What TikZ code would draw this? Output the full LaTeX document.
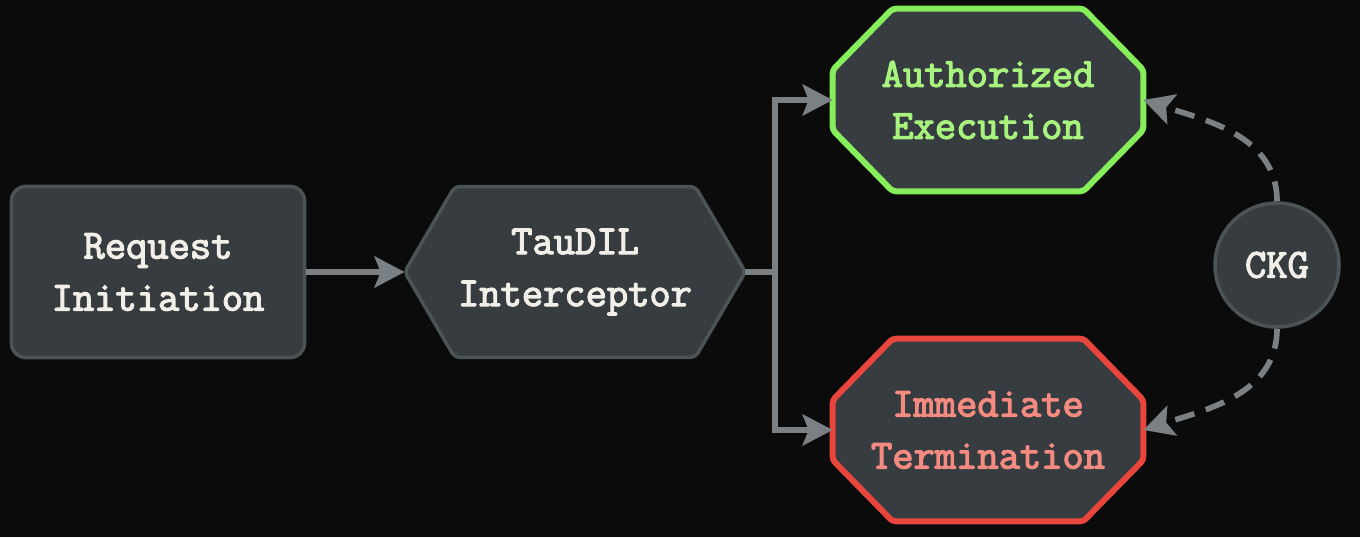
\documentclass[tikz,border=0pt]{standalone}
\usepackage{fontspec}
\usepackage{tikz}
\usetikzlibrary{arrows.meta,backgrounds}

\newfontfamily\boxfont{Latin Modern Mono}[FakeBold=3]

\definecolor{bgblack}{HTML}{0B0B0B}
\definecolor{boxfill}{HTML}{363C3F}
\definecolor{boxedge}{HTML}{4C5356}
\definecolor{flowgray}{HTML}{7A8084}
\definecolor{okgreen}{HTML}{86EE5A}
\definecolor{oktext}{HTML}{A8F27E}
\definecolor{badred}{HTML}{E8453C}
\definecolor{badtext}{HTML}{F48A80}
\definecolor{paper}{HTML}{F2EFE8}

\begin{document}
\begin{tikzpicture}[
  every node/.style={font=\fontsize{23.5}{29.6}\selectfont\boxfont\bfseries,
    align=center, text=paper},
  stagebox/.style={draw=boxedge, line width=2pt, fill=boxfill,
    rounded corners=8pt, minimum width=5.86cm, minimum height=3.42cm},
  holder/.style={inner sep=0pt},
  shapeline/.style={line width=2pt, draw=boxedge, fill=boxfill,
    rounded corners=3pt},
  outline/.style={line width=3.4pt, fill=boxfill, rounded corners=2pt},
  flow/.style={draw=flowgray, line width=3.4pt},
  tip/.style={-{Stealth[length=0.6cm,width=0.62cm,inset=0.12cm]}},
  feedback/.style={draw=flowgray, line width=3.2pt,
    dash pattern=on 0.4cm off 0.24cm},
]
  \useasboundingbox (0,0) rectangle (27.2,10.74);

  \node[stagebox] (request) at (3.16,5.30) {Request\\Initiation};
  \node[holder, minimum width=6.8cm, minimum height=3.4cm] (taudil)
    at (11.5,5.30) {TauDIL\\Interceptor};

  \node[holder, text=oktext, minimum width=6.2cm, minimum height=3.64cm]
    (authorized) at (19.76,8.74) {Authorized\\Execution};
  \node[holder, text=badtext, minimum width=6.2cm, minimum height=3.64cm]
    (terminate) at (19.76,2.14) {Immediate\\Termination};

  \node[circle, draw=boxedge, line width=2pt, fill=boxfill,
    minimum size=2.48cm, inner sep=0pt] (ckg) at (25.54,5.44) {CKG};

  % page colour and shapes behind the texts
  \begin{scope}[on background layer]
    \fill[bgblack] (0,0) rectangle (27.2,10.74);
    \draw[shapeline] (taudil.west) -- ([xshift=1cm]taudil.north west)
      -- ([xshift=-1cm]taudil.north east) -- (taudil.east)
      -- ([xshift=-1cm]taudil.south east) -- ([xshift=1cm]taudil.south west)
      -- cycle;
    \foreach \n/\c in {authorized/okgreen, terminate/badred}
      \draw[outline, draw=\c] ([yshift=0.6cm]\n.west)
        -- ([xshift=1.2cm]\n.north west) -- ([xshift=-1.2cm]\n.north east)
        -- ([yshift=0.6cm]\n.east) -- ([yshift=-0.6cm]\n.east)
        -- ([xshift=-1.2cm]\n.south east) -- ([xshift=1.2cm]\n.south west)
        -- ([yshift=-0.6cm]\n.west) -- cycle;
  \end{scope}

  % main flow
  \draw[flow, tip] (request.east) -- (taudil.west);
  \draw[flow] (taudil.east) -- ++(0.6,0) coordinate (split);
  \draw[flow, tip] (split) |- (authorized.west);
  \draw[flow, tip] (split) |- (terminate.west);

  % graph feedback
  \draw[feedback, tip] (ckg.north) to[out=90, in=-18] (authorized.east);
  \draw[feedback, tip] (ckg.south) to[out=-90, in=18] (terminate.east);
\end{tikzpicture}
\end{document}
